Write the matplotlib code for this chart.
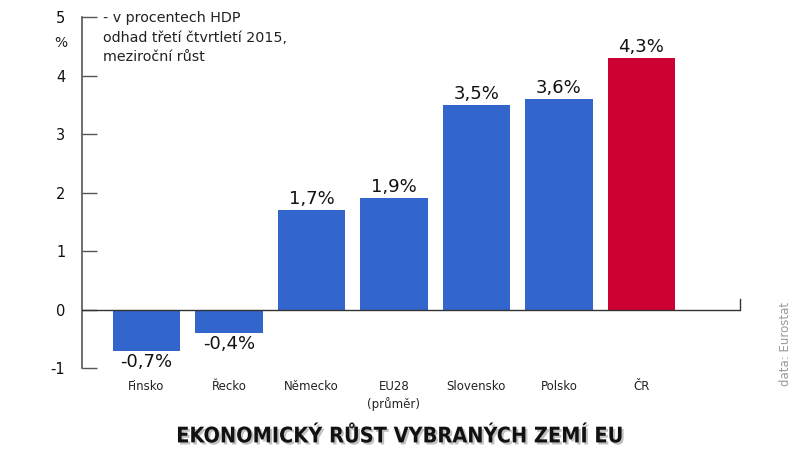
import numpy as np
import matplotlib.pyplot as plt
import matplotlib.patheffects as pe

# data
countries = ['Finsko', 'Řecko', 'Německo', 'EU28\n(průměr)', 'Slovensko', 'Polsko', 'ČR']
growth = [-0.7, -0.4, 1.7, 1.9, 3.5, 3.6, 4.3]
value_labels = ['-0,7%', '-0,4%', '1,7%', '1,9%', '3,5%', '3,6%', '4,3%']
yticks = [-1, 0, 1, 2, 3, 4, 5]

blue = '#3366cc'
red = '#cc0033'
colors = [red if c == 'ČR' else blue for c in countries]

fig = plt.figure(figsize=(7.98, 4.5), dpi=100)
ax = fig.add_axes([0.1028, 0.182, 0.824, 0.78])

x = np.arange(len(countries))
ax.bar(x, growth, width=0.82, color=colors, zorder=2)

ax.set_xlim(-0.78, 7.19)
ax.set_ylim(-1, 5)

# zero line with small end tick
ax.axhline(0, color='#333333', lw=1, zorder=3)
ax.plot([7.19, 7.19], [0, 0.18], color='#333333', lw=1, clip_on=False)

for side in ['top', 'right', 'bottom']:
    ax.spines[side].set_visible(False)
ax.spines['left'].set_color('#555555')
ax.spines['left'].set_linewidth(1.2)

ax.set_yticks(yticks)
ax.set_yticklabels([str(t) for t in yticks], fontsize=10.5, color='#111111')
ax.tick_params(axis='y', direction='in', length=11, width=1, color='#555555', pad=12)
ax.set_xticks([])

# value labels
for xi, v, lab in zip(x, growth, value_labels):
    if v >= 0:
        ax.text(xi, v + 0.04, lab, ha='center', va='bottom', fontsize=13, color='#111111')
    else:
        ax.text(xi, v - 0.04, lab, ha='center', va='top', fontsize=13, color='#111111')

# category labels
for xi, name in zip(x, countries):
    ax.text(xi, -1.2, name, ha='center', va='top', fontsize=8.5, color='#222222',
            linespacing=1.35)

ax.text(-1.04, 4.55, '%', ha='center', va='center', fontsize=10, color='#222222')
ax.text(-0.53, 5.1, '- v procentech HDP\nodhad třetí čtvrtletí 2015,\nmeziroční růst',
        ha='left', va='top', fontsize=10.3, color='#222222', linespacing=1.5)

fig.text(0.5, 0.008, 'EKONOMICKÝ RŮST VYBRANÝCH ZEMÍ EU', ha='center', va='bottom',
         fontsize=15.5, fontweight='bold', fontstretch='condensed', family='DejaVu Sans',
         color='#111111',
         path_effects=[pe.withSimplePatchShadow(offset=(1.5, -1.5), shadow_rgbFace='#999999', alpha=0.6)])

fig.text(0.984, 0.235, 'data: Eurostat', rotation=90, ha='center', va='center',
         fontsize=8.5, color='#999999')

fig.savefig('out.png', dpi=100)
